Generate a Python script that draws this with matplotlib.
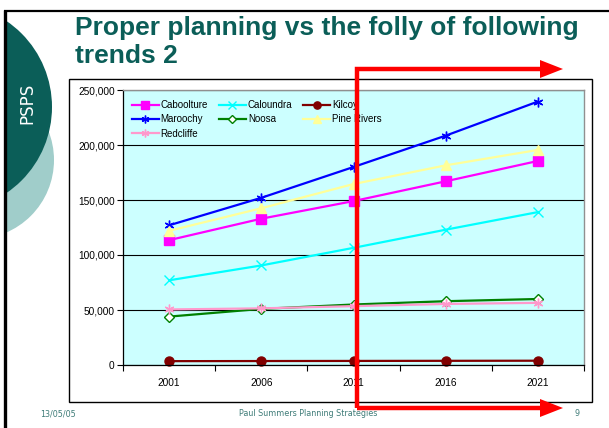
import numpy as np
import matplotlib
matplotlib.use('Agg')
import matplotlib.pyplot as plt
from matplotlib.patches import Circle, Rectangle, Polygon
from matplotlib.ticker import FuncFormatter, FixedLocator

plt.rcParams['font.family'] = ['Liberation Sans', 'DejaVu Sans']

years = ['2001', '2006', '2011', '2016', '2021']
caboolture = [113500, 133000, 149000, 167000, 185500]
caloundra = [77000, 90500, 106500, 123000, 139000]
kilcoy = [3500, 3600, 3700, 3800, 3900]
maroochy = [127000, 152000, 180000, 208500, 239500]
noosa = [44000, 51000, 55000, 58000, 60000]
pine_rivers = [122000, 142500, 164500, 181500, 195500]
redcliffe = [50500, 51500, 53500, 55500, 56500]

W, H = 609, 428
fig = plt.figure(figsize=(W / 100, H / 100), dpi=100)
fig.patch.set_facecolor('white')

# background layer in pixel coords (slide decoration)
bg = fig.add_axes([0, 0, 1, 1], zorder=0)
bg.set_xlim(0, W)
bg.set_ylim(H, 0)
bg.axis('off')

teal = '#0b5e58'
bg.add_patch(Circle((-25, 160), 79, color='#a0cdca', lw=0))
bg.add_patch(Circle((-52, 107), 104, color=teal, lw=0))
bg.add_patch(Rectangle((0, 0), 4, H, color='white', lw=0))
bg.plot([4.5, 4.5], [10, H], color='black', lw=2.4, solid_capstyle='butt')
bg.plot([4, W], [10.5, 10.5], color='black', lw=1.6, solid_capstyle='butt')
bg.text(27, 103, 'PSPS', color='white', fontsize=12, rotation=90,
        ha='center', va='center', family=['DejaVu Sans'])

bg.text(75, 35, 'Proper planning vs the folly of following', color=teal,
        fontsize=19, fontweight='bold', ha='left', va='baseline')
bg.text(75, 63, 'trends 2', color=teal, fontsize=19, fontweight='bold',
        ha='left', va='baseline')

# chart area box
bg.add_patch(Rectangle((69, 79), 523, 323, facecolor='white',
                       edgecolor='black', lw=1.0))

foot = '#3f7c78'
bg.text(58, 414, '13/05/05', color=foot, fontsize=5.8, ha='center',
        va='center', family=['DejaVu Sans'])
bg.text(308, 414, 'Paul Summers Planning Strategies', color=foot,
        fontsize=5.8, ha='center', va='center', family=['DejaVu Sans'])
bg.text(577, 414, '9', color=foot, fontsize=5.8, ha='center', va='center',
        family=['DejaVu Sans'])

# chart
x0, x1, y0, y1 = 123, 584, 90, 365
ax = fig.add_axes([x0 / W, 1 - y1 / H, (x1 - x0) / W, (y1 - y0) / H],
                  zorder=1)
ax.set_facecolor('#ccffff')
x = np.arange(len(years))

series = [
    ('Caboolture', caboolture, dict(color='#ff00ff', marker='s', ms=6.5)),
    ('Caloundra', caloundra, dict(color='#00ffff', marker='x', ms=6.5, mew=1.0)),
    ('Kilcoy', kilcoy, dict(color='#800000', marker='o', ms=6.5)),
    ('Maroochy', maroochy, dict(color='#0000ff', marker=(6, 2, 0), ms=7, mew=1.0)),
    ('Noosa', noosa, dict(color='#008000', marker='D', ms=5.5, mfc='white', mew=1.0)),
    ('Pine Rivers', pine_rivers, dict(color='#ffff99', marker='^', ms=7)),
    ('Redcliffe', redcliffe, dict(color='#ff99cc', marker=(6, 2, 0), ms=7, mew=1.0)),
]
handles = {}
for name, vals, st in series:
    h, = ax.plot(x, vals, lw=1.6, label=name, clip_on=False, **st)
    handles[name] = h

ax.set_xlim(-0.5, 4.5)
ax.set_ylim(0, 250000)
ax.yaxis.set_major_locator(FixedLocator(np.arange(0, 250001, 50000)))
ax.yaxis.set_major_formatter(FuncFormatter(lambda v, p: f'{int(v):,}'))
ax.set_xticks(np.arange(-0.5, 5, 1))
ax.set_xticklabels([])
ax.set_xticks(x, minor=True)
ax.set_xticklabels(years, minor=True)
ax.tick_params(axis='x', which='major', length=4, width=0.8, direction='out')
ax.tick_params(axis='x', which='minor', length=0, pad=9, labelsize=7.3)
ax.tick_params(axis='y', length=4, width=0.8, direction='out', pad=2,
               labelsize=7.3)
ax.grid(axis='y', color='black', lw=0.8)
ax.set_axisbelow(True)
for s in ['top', 'right']:
    ax.spines[s].set_color('#909090')
    ax.spines[s].set_linewidth(1.0)
for s in ['left', 'bottom']:
    ax.spines[s].set_color('black')
    ax.spines[s].set_linewidth(0.9)

order = ['Caboolture', 'Maroochy', 'Redcliffe', 'Caloundra', 'Noosa',
         'Kilcoy', 'Pine Rivers']
ax.legend([handles[n] for n in order], order, loc='upper left',
          bbox_to_anchor=(8.5 / (x1 - x0), 1 - 10 / (y1 - y0)), ncol=3,
          frameon=False, fontsize=7, handlelength=2.8, handletextpad=0.2,
          columnspacing=1.1, labelspacing=0.45, borderpad=0,
          borderaxespad=0, markerscale=0.8)

# red arrows overlay
ov = fig.add_axes([0, 0, 1, 1], zorder=2)
ov.set_xlim(0, W)
ov.set_ylim(H, 0)
ov.axis('off')
red = '#ff0000'
ov.plot([357, 357, 545], [408, 69, 69], color=red, lw=3.2,
        solid_joinstyle='miter', solid_capstyle='butt')
ov.plot([357, 545], [408, 408], color=red, lw=3.2, solid_capstyle='butt')
for yy in (69, 408):
    ov.add_patch(Polygon([(540, yy - 9), (563, yy), (540, yy + 9)],
                         closed=True, color=red, lw=0))

fig.savefig('out.png', dpi=100)
